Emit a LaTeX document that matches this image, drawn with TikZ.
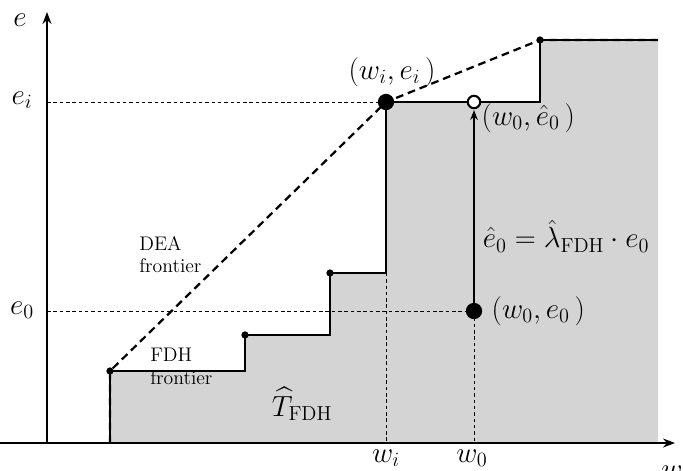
\documentclass[tikz,border=0pt]{standalone}
\usepackage{amsmath}
\usepackage{amssymb}
\usetikzlibrary{calc}
\usetikzlibrary{arrows.meta}

\begin{document}
\begin{tikzpicture}[x=0.025cm, y=0.025cm,
  axis/.style={-{Stealth[length=3mm]}, line width=1.1pt},
  frontier/.style={line width=1.8pt},
  dea/.style={line width=1.6pt, dash pattern=on 5.5pt off 3.5pt},
  guide/.style={line width=0.6pt, dash pattern=on 2.5pt off 2pt},
  lbl/.style={font=\fontsize{21}{24}\selectfont, inner sep=1pt},
  txt/.style={font=\fontsize{14}{16}\selectfont, align=left, inner sep=0pt}]
\useasboundingbox (0,0) rectangle (683,470);

% corner points of the staircase
\coordinate (O) at (47,27);
\coordinate (A) at (110,99);
\coordinate (B) at (245,135);
\coordinate (C) at (330,197);
\coordinate (Pi) at (386,368);
\coordinate (D) at (540,430);
\coordinate (E) at (658,430);
\coordinate (P0) at (474,159);
\coordinate (P0h) at (474,368);

% shaded set
\fill[black!17] (110,27) -- (A) -- (245,99) -- (B) -- (330,135) -- (C)
  -- (386,197) -- (Pi) -- (540,368) -- (D) -- (E) -- (658,27) -- cycle;

% guide lines
\draw[guide] (O |- Pi) -- (Pi);
\draw[guide] (O |- P0) -- (P0);
\draw[guide] (Pi) -- (Pi |- O);
\draw[guide] (P0) -- (P0 |- O);

% axes
\draw[axis] (0,27) -- (675,27);
\draw[axis] (O) -- (47,458);

% FDH frontier
\draw[frontier] (110,27) -- (A) -- (245,99) -- (B) -- (330,135) -- (C)
  -- (386,197) -- (Pi) -- (540,368) -- (D) -- (E);

% DEA frontier
\draw[dea] (110,27) -- (A) -- (Pi) -- (D) -- (E);

% projection
\draw[-{Stealth[length=2.5mm]}, line width=0.9pt] (P0) -- ($(P0h)+(0,-8)$);

\fill (A) circle (2.6pt);
\fill (B) circle (2.6pt);
\fill (C) circle (2.6pt);
\fill (D) circle (2.6pt);
\fill (Pi) circle (5.8pt);
\fill (P0) circle (5.8pt);
\draw[line width=1.5pt, fill=white] (P0h) circle (4.4pt);

% labels
\node[lbl] (le) at (20,450) {$e$};
\node[lbl] (lei) at (22,370) {$e_i$};
\node[lbl] (le0) at (22,160) {$e_0$};
\node[lbl] (lwi) at (386,12) {$w_i$};
\node[lbl] (lw0) at (472,12) {$w_0$};
\node[lbl] (lw) at (672,-2) {$w$};
\node[lbl] (lPi) at (392,398) {$(w_i,e_i\,)$};
\node[lbl, anchor=west] (lP0h) at (480,352) {$(w_0,\hat{e}_0\,)$};
\node[lbl, anchor=west] (lP0) at (490,159) {$(w_0,e_0\,)$};
\node[lbl] (leq) at (566,234) {$\hat{e}_0=\hat{\lambda}_{\mathrm{FDH}}\cdot e_0$};
\node[lbl] (lT) at (302,66) {$\widehat{T}_{\mathrm{FDH}}$};
\node[txt, anchor=north west] (ldea) at (139,234) {DEA\\frontier};
\node[txt, anchor=north west] (lfdh) at (150,122) {FDH\\frontier};
\end{tikzpicture}
\end{document}
